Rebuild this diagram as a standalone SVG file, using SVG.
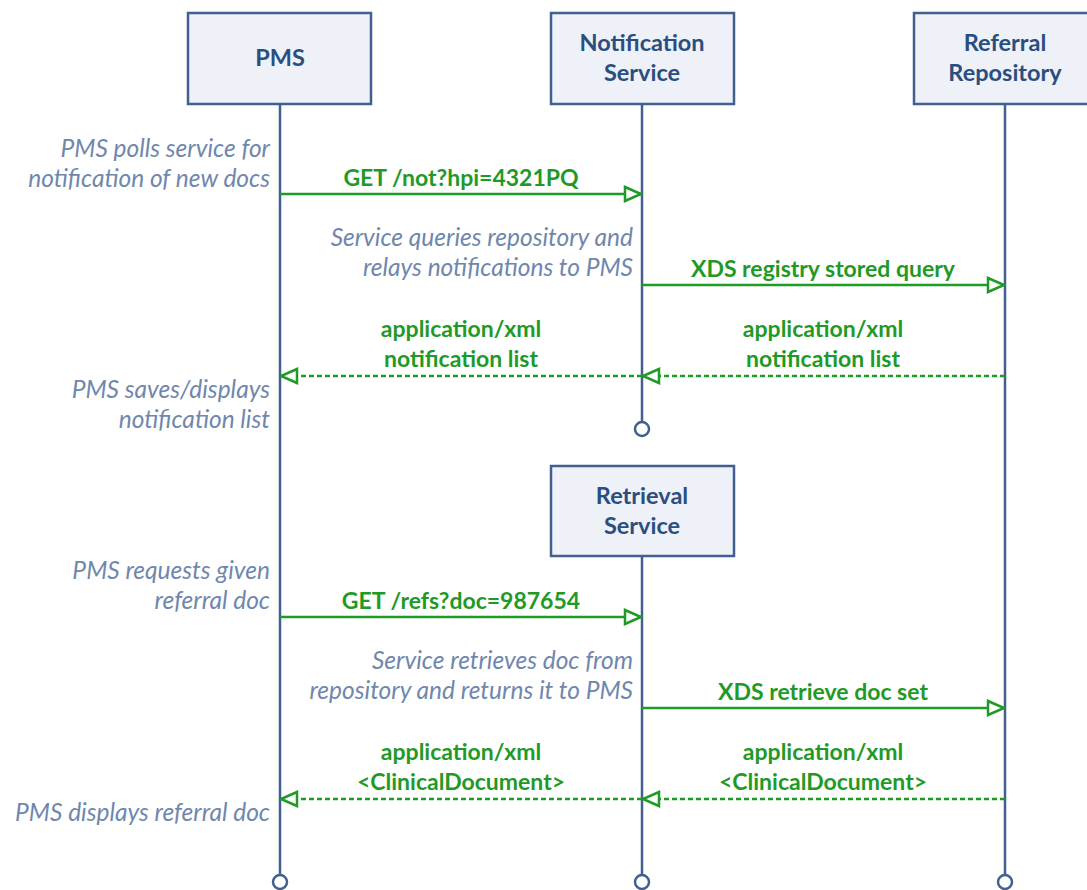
<svg xmlns="http://www.w3.org/2000/svg" width="1087" height="890" viewBox="0 0 1087 890">
<defs>
<style>
.box{fill:#eef1f7;stroke:#41608f;stroke-width:2.5}
.bt{font-family:Lato,"Open Sans",sans-serif;font-weight:bold;font-size:23.5px;fill:#2a4e80;text-anchor:middle}
.life{stroke:#41608f;stroke-width:2.5;fill:none}
.end{fill:#fff;stroke:#41608f;stroke-width:2.5}
.note{font-family:Lato,"Open Sans",sans-serif;font-style:italic;font-size:24.5px;fill:#6f87ad;text-anchor:end}
.msg{stroke:#1f9a26;stroke-width:2.5;fill:none}
.ret{stroke-dasharray:5 3}
.ml{font-family:Lato,"Open Sans",sans-serif;font-weight:bold;font-size:23px;fill:#1f9a26;text-anchor:middle}
</style>
<marker id="ah" viewBox="0 0 20 18" refX="19" refY="9" markerWidth="20" markerHeight="18" markerUnits="userSpaceOnUse" orient="auto">
<path d="M2,2 L18,9 L2,16 Z" fill="#fff" stroke="#1f9a26" stroke-width="2.5"/>
</marker>
</defs>
<rect width="1087" height="890" fill="#fff"/>
<g id="lifelines">
<line class="life" x1="280" y1="104" x2="280" y2="875"/>
<circle class="end" cx="280" cy="882" r="7"/>
<line class="life" x1="642" y1="104" x2="642" y2="422"/>
<circle class="end" cx="642" cy="429" r="7"/>
<line class="life" x1="642" y1="556" x2="642" y2="875"/>
<circle class="end" cx="642" cy="882" r="7"/>
<line class="life" x1="1005" y1="104" x2="1005" y2="875"/>
<circle class="end" cx="1005" cy="882" r="7"/>
</g>
<g id="pms">
<rect class="box" x="188" y="13" width="183" height="91"/>
<text class="bt" x="280" y="66">PMS</text>
</g>
<g id="notification-service">
<rect class="box" x="551" y="13" width="183" height="91"/>
<text class="bt" x="642" y="51">Notification</text>
<text class="bt" x="642" y="81">Service</text>
</g>
<g id="referral-repository">
<rect class="box" x="914" y="13" width="183" height="91"/>
<text class="bt" x="1005" y="51">Referral</text>
<text class="bt" x="1005" y="81">Repository</text>
</g>
<g id="retrieval-service">
<rect class="box" x="551" y="466" width="183" height="90"/>
<text class="bt" x="642" y="504">Retrieval</text>
<text class="bt" x="642" y="534">Service</text>
</g>
<g id="connectors">
<line class="msg" x1="280" y1="194" x2="642" y2="194" marker-end="url(#ah)"/>
<line class="msg" x1="642" y1="285" x2="1005" y2="285" marker-end="url(#ah)"/>
<line class="msg ret" x1="1005" y1="376" x2="642" y2="376" marker-end="url(#ah)"/>
<line class="msg ret" x1="642" y1="376" x2="280" y2="376" marker-end="url(#ah)"/>
<line class="msg" x1="280" y1="617" x2="642" y2="617" marker-end="url(#ah)"/>
<line class="msg" x1="642" y1="708" x2="1005" y2="708" marker-end="url(#ah)"/>
<line class="msg ret" x1="1005" y1="799" x2="642" y2="799" marker-end="url(#ah)"/>
<line class="msg ret" x1="642" y1="799" x2="280" y2="799" marker-end="url(#ah)"/>
</g>
<g id="labels">
<text class="ml" x="461" y="186">GET /not?hpi=4321PQ</text>
<text class="ml" x="823" y="277">XDS registry stored query</text>
<text class="ml" x="461" y="337">application/xml</text>
<text class="ml" x="461" y="367">notification list</text>
<text class="ml" x="823" y="337">application/xml</text>
<text class="ml" x="823" y="367">notification list</text>
<text class="ml" x="461" y="609">GET /refs?doc=987654</text>
<text class="ml" x="823" y="700">XDS retrieve doc set</text>
<text class="ml" x="461" y="760">application/xml</text>
<text class="ml" x="461" y="790">&lt;ClinicalDocument&gt;</text>
<text class="ml" x="823" y="760">application/xml</text>
<text class="ml" x="823" y="790">&lt;ClinicalDocument&gt;</text>
</g>
<g id="notes">
<text class="note" x="270" y="157">PMS polls service for</text>
<text class="note" x="270" y="187">notification of new docs</text>
<text class="note" x="633" y="246">Service queries repository and</text>
<text class="note" x="633" y="276">relays notifications to PMS</text>
<text class="note" x="270" y="398">PMS saves/displays</text>
<text class="note" x="270" y="428">notification list</text>
<text class="note" x="270" y="579">PMS requests given</text>
<text class="note" x="270" y="609">referral doc</text>
<text class="note" x="633" y="669">Service retrieves doc from</text>
<text class="note" x="633" y="699">repository and returns it to PMS</text>
<text class="note" x="270" y="821">PMS displays referral doc</text>
</g>
</svg>
